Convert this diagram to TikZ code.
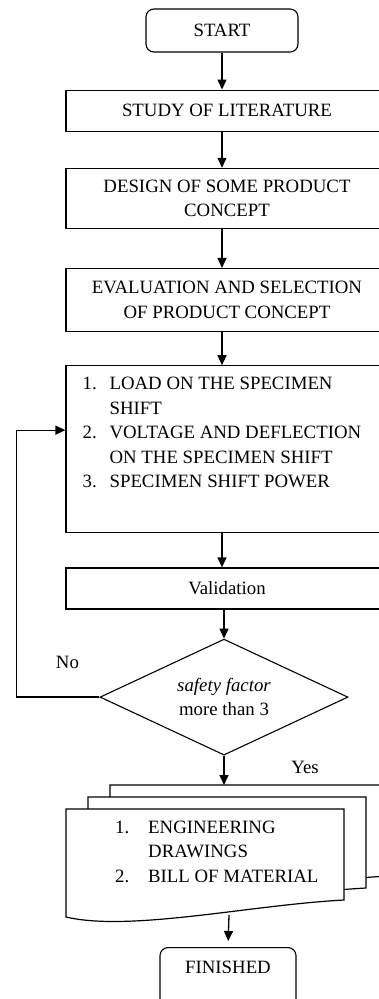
\documentclass[tikz,border=0pt]{standalone}
\usepackage{fontspec}
\setmainfont{Liberation Serif}
\usepackage{tikz}
\usetikzlibrary{
  arrows.meta,
  positioning,
  shapes.geometric
}
\tikzset{
  termnode/.style={draw,rounded corners=8pt,line width=1.1pt,minimum width=152pt,minimum height=43pt,inner sep=4pt,align=center},
  processnode/.style={draw,line width=1.2pt,minimum width=322pt,inner sep=4pt,align=center},
  decisionnode/.style={draw,diamond,line width=1.1pt,minimum width=248pt,minimum height=116pt,aspect=2.2,inner sep=0pt,align=center},
  docpage/.style={draw,fill=white,line width=1.2pt},
  listtext/.style={inner sep=0pt,anchor=north west,align=left},
  flowarrow/.style={-{Triangle[length=10pt,width=9pt]},line width=1.3pt}
}

\begin{document}
\begin{tikzpicture}[x=1pt,y=-1pt,font=\fontsize{18.8pt}{24.5pt}\selectfont]
\path[use as bounding box,clip] (0,0) rectangle (379,999);
\node[termnode] (start) at (222,30.5) {START};
\node[processnode,minimum height=41pt,below=37pt of start,xshift=5pt] (study) {STUDY OF LITERATURE};
\node[processnode,minimum height=60pt,below=36pt of study] (design) {DESIGN OF SOME PRODUCT\\CONCEPT};
\node[processnode,minimum height=63pt,below=39pt of design] (eval) {EVALUATION AND SELECTION\\OF PRODUCT CONCEPT};
\node[processnode,minimum height=167pt,below=33pt of eval] (list) {};
\node[listtext] (listtxt) at ([xshift=17pt,yshift=-7pt]list.north west) {\begin{tabular}{@{}l@{}l@{}}
\makebox[27pt][l]{1.} & LOAD ON THE SPECIMEN\\
 & SHIFT\\
\makebox[27pt][l]{2.} & VOLTAGE AND DEFLECTION\\
 & ON THE SPECIMEN SHIFT\\
\makebox[27pt][l]{3.} & SPECIMEN SHIFT POWER
\end{tabular}};
\node[processnode,minimum height=41pt,below=34pt of list] (valid) {Validation};
\node[decisionnode,below=29pt of valid,xshift=-3pt] (dec) {\textit{safety factor}\\more than 3};

\foreach \d in {2,1,0}
  \draw[docpage,shift={(22*\d,-12*\d)}] (66,809) -- (344,809) -- (344,900) .. controls (250,905) and (130,932) .. (66,917) -- cycle;
\node[listtext] (docstxt) at (115,816) {\begin{tabular}{@{}l@{}l@{}}
\makebox[33pt][l]{1.} & ENGINEERING\\
 & DRAWINGS\\
\makebox[33pt][l]{2.} & BILL OF MATERIAL
\end{tabular}};
\coordinate (docstop) at (224,785);
\coordinate (docsbot) at (229,915);
\node[termnode,minimum width=136pt,minimum height=0pt,text height=22pt,text depth=30pt,anchor=north] (finish) at (228,947) {FINISHED};

\draw[flowarrow] (start.south) -- (start.south |- study.north);
\draw[flowarrow] (start.south |- study.south) -- (start.south |- design.north);
\draw[flowarrow] (start.south |- design.south) -- (start.south |- eval.north);
\draw[flowarrow] (start.south |- eval.south) -- (start.south |- list.north);
\draw[flowarrow] (start.south |- list.south) -- (start.south |- valid.north);
\draw[flowarrow] (dec.north |- valid.south) -- (dec.north);
\draw[flowarrow] (dec.south) -- (docstop);
\draw[flowarrow,shorten >=6pt] (docsbot) -- (finish.north);
\draw[flowarrow] (dec.west) -- ++(-83pt,0) |- ([yshift=-65pt]list.north west);
\node (nolbl) at ([xshift=-32pt,yshift=35pt]dec.west) {No};
\node (yeslbl) at ([xshift=81pt,yshift=-12pt]dec.south) {Yes};
\end{tikzpicture}
\end{document}
